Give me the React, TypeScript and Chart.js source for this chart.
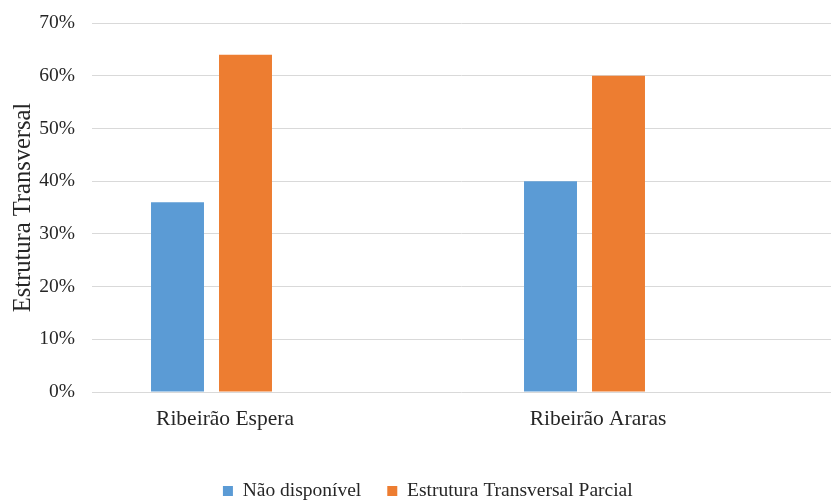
import React, { useEffect, useRef } from "react";
import { Chart, registerables } from "chart.js";

Chart.register(...registerables);

const categories = ["Ribeirão Espera", "Ribeirão Araras"];
const naoDisponivel = [36, 40];
const estruturaParcial = [64, 60];
const yTicks = [0, 10, 20, 30, 40, 50, 60, 70];

const FONT = "'Liberation Serif', 'Times New Roman', serif";
const TEXT = "#262626";

const legendShift = {
  id: "legendShift",
  afterLayout(chart: any) {
    const l = chart.legend;
    if (!l) return;
    l.left += 10;
    l.right += 10;
    l.top += 10.75;
    l.bottom += 10.75;
  },
};

export default function App() {
  const ref = useRef<HTMLCanvasElement | null>(null);

  useEffect(() => {
    document.body.style.margin = "0";
    const ctx = ref.current;
    if (!ctx) return;
    const toPoints = (arr: number[]) => arr.map((v, i) => ({ x: i, y: v }));
    const chart = new Chart(ctx, {
      type: "bar",
      data: {
        datasets: [
          {
            label: "Não disponível",
            data: toPoints(naoDisponivel),
            backgroundColor: "#5B9BD5",
          },
          {
            label: "Estrutura Transversal Parcial",
            data: toPoints(estruturaParcial),
            backgroundColor: "#ED7D31",
          },
        ],
      },
      plugins: [legendShift],
      options: {
        responsive: false,
        animation: false,
        categoryPercentage: 0.3646,
        barPercentage: 0.779,
        layout: { padding: { top: 23, left: 4.6, right: 0, bottom: 0 } },
        plugins: {
          tooltip: { enabled: false },
          legend: {
            position: "bottom",
            labels: {
              boxWidth: 10,
              boxHeight: 10,
              padding: 26,
              color: TEXT,
              font: { family: FONT, size: 19.5 },
            },
          },
        },
        scales: {
          x: {
            type: "linear",
            bounds: "data",
            offset: false,
            min: -0.32038,
            max: 1.66085,
            grid: { display: false, drawTicks: false, offset: false },
            border: { display: false },
            afterBuildTicks: (scale: any) => {
              scale.ticks = categories.map((_, i) => ({ value: i }));
            },
            afterFit: (scale: any) => {
              scale.height = 52.5;
            },
            ticks: {
              padding: 14.5,
              labelOffset: 13.5,
              color: TEXT,
              font: { family: FONT, size: 21.5 },
              callback: (v: any) => categories[v as number] ?? "",
            },
          },
          y: {
            min: 0,
            max: 70,
            afterBuildTicks: (scale: any) => {
              scale.ticks = yTicks.map((v) => ({ value: v }));
            },
            afterFit: (scale: any) => {
              scale.width = 87.4;
              scale.paddingTop = 0;
            },
            grid: { color: "#d9d9d9", drawTicks: false, lineWidth: 1 },
            border: { display: false },
            ticks: {
              padding: 17,
              color: TEXT,
              font: { family: FONT, size: 19.5 },
              callback: (v: any) => v + "%",
            },
            title: {
              display: true,
              text: "Estrutura Transversal",
              color: TEXT,
              font: { family: FONT, size: 24.5 },
              padding: { top: 4, bottom: 4 },
            },
          },
        },
      },
    });
    return () => chart.destroy();
  }, []);

  return (
    <div style={{ width: 831, height: 500, position: "relative" }}>
      <canvas ref={ref} width={831} height={500} />
    </div>
  );
}
